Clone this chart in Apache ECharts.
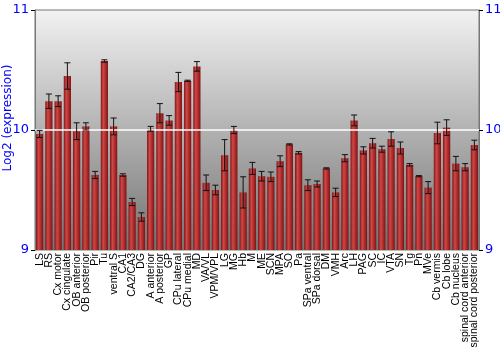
<!DOCTYPE html>
<html><head><meta charset="utf-8">
<script src="https://cdn.jsdelivr.net/npm/echarts@6/dist/echarts.min.js"></script>
<style>html,body{margin:0;padding:0;background:#fff}#c{width:500px;height:350px}</style>
</head><body><div id="c"></div>
<script>
const categories = ["LS","RS","Cx motor","Cx cingulate","OB anterior","OB posterior","Pir","Tu","ventral S","CA1","CA2/CA3","DG","A anterior","A posterior","GP","CPu lateral","CPu medial","MD","VA/VL","VPM/VPL","LG","MG","Hb","M","ME","SCN","MPA","SO","Pa","SPa ventral","SPa dorsal","DM","VMH","Arc","LH","PAG","SC","IC","VTA","SN","Tg","Pn","MVe","Cb vermis","Cb lobe","Cb nucleus","spinal cord anterior","spinal cord posterior"];
const values = [9.967,10.24,10.24,10.45,9.99,10.03,9.625,10.575,10.03,9.625,9.40,9.275,10.01,10.14,10.08,10.40,10.41,10.53,9.56,9.50,9.79,10.0,9.48,9.68,9.615,9.61,9.74,9.88,9.81,9.54,9.55,9.68,9.48,9.765,10.08,9.83,9.89,9.84,9.925,9.85,9.71,9.615,9.52,9.975,10.02,9.72,9.69,9.875];
const errors = [0.03,0.06,0.045,0.11,0.07,0.03,0.03,0.01,0.07,0.01,0.03,0.035,0.02,0.08,0.04,0.08,0.005,0.04,0.065,0.04,0.13,0.03,0.13,0.05,0.04,0.04,0.045,0.005,0.01,0.045,0.025,0.005,0.035,0.03,0.045,0.03,0.04,0.025,0.06,0.05,0.01,0.005,0.05,0.09,0.065,0.06,0.03,0.04];
const yTicks = [9,10,11];

const chart = echarts.init(document.getElementById('c'), null, {renderer:'canvas'});
const errData = values.map((v,i)=>[i, v-errors[i], v+errors[i]]);
const font = "DejaVu Sans";
chart.setOption({
  animation:false,
  grid:{left:35,right:21,top:10,bottom:100,show:true,borderColor:'#777',borderWidth:1,
    containLabel:false,outerBoundsMode:'none',
    backgroundColor:new echarts.graphic.LinearGradient(0,0,0,1,[{offset:0,color:'#f2f2f2'},{offset:1,color:'#727272'}])},
  xAxis:{type:'category',data:categories,
    axisLine:{show:false},axisTick:{show:false},
    axisLabel:{rotate:90,interval:0,color:'#000',fontFamily:'Liberation Sans',fontSize:10.5,margin:3}},
  yAxis:[
    {type:'value',min:yTicks[0],max:yTicks[2],interval:1,name:'Log2 (expression)',nameLocation:'middle',nameGap:21,
     nameMoveOverlap:false,
     nameTextStyle:{color:'#0000ff',fontFamily:font,fontSize:12,padding:[0,0,0,24]},
     axisLine:{show:true,lineStyle:{color:'#777'}},axisTick:{show:true,inside:false,length:4,lineStyle:{color:'#000'}},
     axisLabel:{color:'#0000ff',fontFamily:font,fontSize:13,margin:6},splitLine:{show:false}},
    {type:'value',min:yTicks[0],max:yTicks[2],interval:1,position:'right',
     axisLine:{show:true,lineStyle:{color:'#777'}},axisTick:{show:true,length:4,lineStyle:{color:'#000'}},
     axisLabel:{color:'#0000ff',fontFamily:font,fontSize:13,margin:6},splitLine:{show:false}}
  ],
  series:[
    {type:'bar',data:values,barCategoryGap:'22%',
     itemStyle:{color:new echarts.graphic.LinearGradient(0,0,1,0,[{offset:0,color:'#7e1818'},{offset:0.35,color:'#cf4848'},{offset:0.6,color:'#b83030'},{offset:1,color:'#7a1616'}])},
     markLine:{silent:true,symbol:['none','none'],label:{show:false},lineStyle:{color:'#ffffff',type:'solid',width:1.5},data:[{yAxis:10}]}},
    {type:'custom',data:errData,z:10,
     renderItem:function(params,api){
       const x=api.coord([api.value(0),api.value(1)])[0];
       const lo=api.coord([api.value(0),api.value(1)])[1];
       const hi=api.coord([api.value(0),api.value(2)])[1];
       const w=3;
       const st={stroke:'#111',lineWidth:1};
       return {type:'group',children:[
         {type:'line',shape:{x1:x,y1:lo,x2:x,y2:hi},style:st},
         {type:'line',shape:{x1:x-w,y1:lo,x2:x+w,y2:lo},style:st},
         {type:'line',shape:{x1:x-w,y1:hi,x2:x+w,y2:hi},style:st}
       ]};
     }}
  ]
});
</script></body></html>
